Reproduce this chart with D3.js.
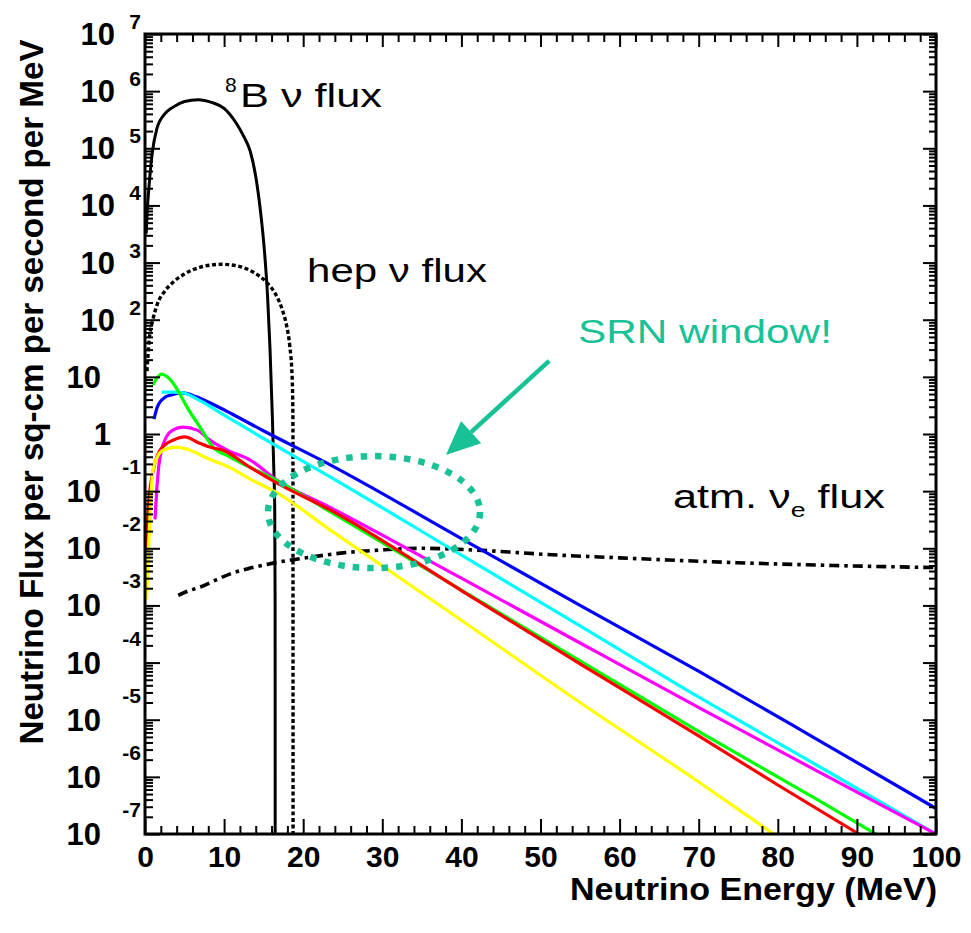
<!DOCTYPE html>
<html>
<head>
<meta charset="utf-8">
<script src="https://cdn.jsdelivr.net/npm/d3@7"></script>
<style>
  body { margin: 0; background: #fff; }
  svg { display: block; }
  text { font-family: "Liberation Sans", Arial, Helvetica, sans-serif; fill: #000; }
</style>
</head>
<body>
<svg id="chart" width="971" height="933"></svg>
<script>
// ---------- axis ticks ----------
const energyTicks = [0, 10, 20, 30, 40, 50, 60, 70, 80, 90, 100];
const decadeExponents = [7, 6, 5, 4, 3, 2, 1, 0, -1, -2, -3, -4, -5, -6, -7];

// ---------- solar 8B spectrum (MeV, flux) ----------
const b8Energy = [0.15, 0.3, 0.5, 0.9, 1.5, 2.5, 3.5, 5, 6.7, 8.5, 10, 11.5, 12.5, 13.3, 14.0, 14.6, 15.1, 15.5, 15.8, 16.1, 16.3, 16.4, 16.45, 16.46];
const b8Flux   = [3.2e3, 8.9e3, 2.1e4, 7.9e4, 2.2e5, 4.0e5, 5.2e5, 6.6e5, 7.1e5, 6.3e5, 5.0e5, 2.8e5, 1.6e5, 8.9e4, 3.2e4, 7.9e3, 1.6e3, 250, 32, 2.0, 0.2, 5.0e-2, 1e-3, 1e-8];

// ---------- solar hep spectrum ----------
const hepEnergy = [0.25, 0.5, 1.0, 1.5, 2.5, 3.5, 5, 7, 9.7, 12, 13.7, 15.4, 16.5, 17.3, 17.9, 18.3, 18.6, 18.7, 18.72];
const hepFlux   = [12.6, 40, 100, 178, 316, 447, 631, 832, 933, 851, 676, 447, 282, 158, 79, 35, 10, 2, 1e-8];

// ---------- atmospheric nu_e ----------
const atmEnergy = [4.2, 5.5, 7, 9, 11.1, 13.3, 16.2, 21.2, 25, 29.7, 35, 41.8, 52.2, 60, 74.8, 87, 100];
const atmFlux   = [1.5e-3, 1.8e-3, 2.1e-3, 2.8e-3, 3.7e-3, 4.5e-3, 5.5e-3, 7.1e-3, 8.3e-3, 9.3e-3, 1.0e-2, 9.3e-3, 7.6e-3, 6.8e-3, 5.6e-3, 5.0e-3, 4.6e-3];

// ---------- relic supernova neutrino models ----------
const blueEnergy = [1.14, 1.5, 1.9, 2.5, 3.2, 4.8, 6.5, 8.6, 11, 14.9, 23, 40, 55, 70.2, 85, 100];
const blueFlux   = [1.82, 2.82, 3.63, 4.37, 4.79, 5.25, 4.47, 3.31, 2.24, 1.15, 0.31, 1.48e-2, 1.0e-3, 6.8e-5, 4.5e-6, 2.8e-7];

const cyanEnergy = [2.1, 3.5, 4.8, 7, 10, 14.9, 23.4, 40, 55, 70.2, 85, 100];
const cyanFlux   = [5.4, 5.4, 5.25, 3.8, 2.14, 0.85, 0.178, 7.6e-3, 4.4e-4, 2.4e-5, 1.58e-6, 1.0e-7];

const magentaEnergy = [1.26, 1.5, 1.75, 2.15, 2.7, 3.5, 4.8, 6.6, 8.2, 10.4, 13.3, 16.7, 23.4, 40, 55, 70.2, 85, 100];
const magentaFlux   = [3.2e-2, 0.112, 0.28, 0.56, 0.89, 1.17, 1.32, 1.17, 0.78, 0.52, 0.35, 0.155, 5.2e-2, 3.0e-3, 2.2e-4, 1.58e-5, 1.26e-6, 1.0e-7];

const greenEnergy = [1.01, 1.5, 2.15, 2.8, 3.54, 4.4, 5.31, 6.95, 8.6, 10.7, 13.3, 15.8, 23, 40, 55, 70.2, 85, 93];
const greenFlux   = [7.2, 9.5, 11.2, 10, 7.8, 5.0, 2.95, 1.32, 0.59, 0.40, 0.26, 0.178, 4.7e-2, 1.86e-3, 1.07e-4, 6.0e-6, 4.0e-7, 8.9e-8];

const redEnergy = [0.2, 0.4, 0.63, 0.88, 1.3, 1.9, 2.6, 3.54, 5.06, 6.6, 8.2, 9.86, 13.3, 16.7, 23.4, 40, 55, 70.2, 80, 90.5];
const redFlux   = [1.0e-2, 4.5e-2, 0.105, 0.178, 0.33, 0.52, 0.66, 0.78, 0.89, 0.72, 0.59, 0.52, 0.26, 0.138, 4.7e-2, 1.82e-3, 9.5e-5, 5.0e-6, 7.2e-7, 9.5e-8];

const yellowEnergy = [0.2, 0.5, 0.75, 1.0, 1.5, 2.28, 4.05, 5.7, 7.8, 10.7, 13.3, 16.7, 23.4, 40, 55, 70.2, 80];
const yellowFlux   = [1.26e-3, 1.4e-2, 7.9e-2, 0.23, 0.38, 0.52, 0.59, 0.52, 0.38, 0.26, 0.162, 9.3e-2, 2.1e-2, 5.5e-4, 2.0e-5, 7.8e-7, 8.9e-8];

// SRN window annotation (energy, flux)
const srnCenter = [28.95, 4.3e-2];
const srnHalfWidth = 13.4;          // MeV
const srnHalfHeightDecades = 0.98;  // decades
const arrowTail = [51.1, 19];
const arrowTip = [38.05, 0.43];

// ---------- layout ----------
const svg = d3.select("#chart");
const plot = { left: 145, right: 936, top: 34, bottom: 834 };
const teal = "#19c296";

svg.append("rect").attr("width", 971).attr("height", 933).attr("fill", "#fff");

const x = d3.scaleLinear().domain([0, 100]).range([plot.left, plot.right]);
const y = d3.scaleLog().domain([1e-7, 1e7]).range([plot.bottom, plot.top]);

svg.append("defs").append("clipPath").attr("id", "plotClip")
  .append("rect")
  .attr("x", plot.left).attr("y", plot.top)
  .attr("width", plot.right - plot.left).attr("height", plot.bottom - plot.top);

// ---------- curves ----------
const line = d3.line()
  .x(d => x(d[0]))
  .y(d => y(d[1]))
  .curve(d3.curveMonotoneX);

const curves = svg.append("g").attr("clip-path", "url(#plotClip)");

function drawCurve(energy, flux, color, width, dash) {
  curves.append("path")
    .datum(d3.zip(energy, flux))
    .attr("d", line)
    .attr("fill", "none")
    .attr("stroke", color)
    .attr("stroke-width", width)
    .attr("stroke-linejoin", "round")
    .attr("stroke-dasharray", dash || null);
}

drawCurve(atmEnergy, atmFlux, "#000", 3.6, "10,5,3.5,5");
drawCurve(hepEnergy, hepFlux, "#000", 3.4, "4,2.6");
drawCurve(b8Energy, b8Flux, "#000", 3);
drawCurve(blueEnergy, blueFlux, "#0000ff", 3.2);
drawCurve(cyanEnergy, cyanFlux, "#00ffff", 3.2);
drawCurve(magentaEnergy, magentaFlux, "#ff00ff", 3.2);
drawCurve(greenEnergy, greenFlux, "#00ff00", 3.2);
drawCurve(redEnergy, redFlux, "#ff0000", 3.2);
drawCurve(yellowEnergy, yellowFlux, "#ffff00", 3.2);

// ---------- axes (inward ticks on all four sides) ----------
const xMinor = d3.range(0, 101, 2).filter(v => v % 10 !== 0);
const yMajor = decadeExponents.map(e => Math.pow(10, e));
const yMinor = [];
decadeExponents.filter(e => e < 7).forEach(e => {
  for (let m = 2; m <= 9; m++) yMinor.push(m * Math.pow(10, e));
});

function styleAxis(g) {
  g.select(".domain").remove();
  g.selectAll(".tick line").attr("stroke", "#000").attr("stroke-width", 2);
}

svg.append("g").attr("transform", `translate(0,${plot.bottom})`)
  .call(d3.axisBottom(x).tickValues(xMinor).tickSize(-8).tickSizeOuter(0).tickFormat(""))
  .call(styleAxis);
const xAxisMajor = svg.append("g").attr("transform", `translate(0,${plot.bottom})`)
  .call(d3.axisBottom(x).tickValues(energyTicks).tickSize(-15).tickSizeOuter(0).tickPadding(12).tickFormat(d3.format("d")))
  .call(styleAxis);
xAxisMajor.selectAll(".tick text")
  .attr("font-family", '"Liberation Sans", Arial, sans-serif')
  .attr("font-size", 30).attr("font-weight", "bold").attr("fill", "#000");

svg.append("g").attr("transform", `translate(0,${plot.top})`)
  .call(d3.axisTop(x).tickValues(xMinor).tickSize(-8).tickSizeOuter(0).tickFormat(""))
  .call(styleAxis);
svg.append("g").attr("transform", `translate(0,${plot.top})`)
  .call(d3.axisTop(x).tickValues(energyTicks).tickSize(-13).tickSizeOuter(0).tickFormat(""))
  .call(styleAxis);

svg.append("g").attr("transform", `translate(${plot.left},0)`)
  .call(d3.axisLeft(y).tickValues(yMinor).tickSize(-8).tickSizeOuter(0).tickFormat(""))
  .call(styleAxis);
svg.append("g").attr("transform", `translate(${plot.left},0)`)
  .call(d3.axisLeft(y).tickValues(yMajor).tickSize(-15).tickSizeOuter(0).tickFormat(""))
  .call(styleAxis);
svg.append("g").attr("transform", `translate(${plot.right},0)`)
  .call(d3.axisRight(y).tickValues(yMinor).tickSize(-7).tickSizeOuter(0).tickFormat(""))
  .call(styleAxis);
svg.append("g").attr("transform", `translate(${plot.right},0)`)
  .call(d3.axisRight(y).tickValues(yMajor).tickSize(-13).tickSizeOuter(0).tickFormat(""))
  .call(styleAxis);

svg.append("rect")
  .attr("x", plot.left).attr("y", plot.top)
  .attr("width", plot.right - plot.left).attr("height", plot.bottom - plot.top)
  .attr("fill", "none").attr("stroke", "#000").attr("stroke-width", 3);

// ---------- decade labels (10 with raised exponent) ----------
const yLabels = svg.append("g")
  .attr("font-weight", "bold");
decadeExponents.forEach(e => {
  const ty = y(Math.pow(10, e));
  if (e === 0) {
    yLabels.append("text").attr("x", 111).attr("y", ty + 11)
      .attr("text-anchor", "end").attr("font-size", 31).text("1");
    return;
  }
  const baseRight = e >= 2 ? 115 : 101;
  yLabels.append("text").attr("x", baseRight).attr("y", ty + 11)
    .attr("text-anchor", "end").attr("font-size", 31).text("10");
  if (e !== 1) {
    const raise = e > 0 ? -5 : -17;
    yLabels.append("text").attr("x", 141).attr("y", ty + raise)
      .attr("text-anchor", "end").attr("font-size", 21).text(String(e));
  }
});

// ---------- axis titles ----------
svg.append("text")
  .attr("transform", "translate(43,392) rotate(-90)")
  .attr("text-anchor", "middle")
  .attr("font-size", 33).attr("font-weight", "bold")
  .attr("textLength", 705).attr("lengthAdjust", "spacingAndGlyphs")
  .text("Neutrino Flux per sq-cm per second per MeV");

svg.append("text")
  .attr("x", 570).attr("y", 900)
  .attr("font-size", 32).attr("font-weight", "bold")
  .attr("textLength", 367).attr("lengthAdjust", "spacingAndGlyphs")
  .text("Neutrino Energy (MeV)");

// ---------- curve labels ----------
function fitted(x0, baseline, width, size, build) {
  const g = svg.append("g").attr("transform", `translate(${x0},${baseline})`);
  const t = g.append("text").attr("font-size", size);
  build(t);
  const w = t.node().getBBox().width;
  t.attr("transform", `scale(${width / w},1)`);
  return t;
}

svg.append("text").attr("x", 225).attr("y", 92).attr("font-size", 21).text("8");
fitted(240, 107, 142, 34, t => t.text("B ν flux"));
fitted(307, 282, 180, 34, t => t.text("hep ν flux"));
fitted(673, 508, 212, 34, t => {
  t.append("tspan").text("atm. ν");
  t.append("tspan").attr("font-size", 21).attr("dy", 9).text("e");
  t.append("tspan").attr("dy", -9).text(" flux");
});
fitted(578, 343, 254, 34, t => t.attr("fill", teal).style("fill", teal).text("SRN window!"));

// ---------- SRN window ellipse and arrow ----------
const cx = x(srnCenter[0]), cy = y(srnCenter[1]);
const rx = x(srnCenter[0] + srnHalfWidth) - cx;
const ry = cy - y(srnCenter[1] * Math.pow(10, srnHalfHeightDecades));
svg.append("ellipse")
  .attr("cx", cx).attr("cy", cy).attr("rx", rx).attr("ry", ry)
  .attr("fill", "none").attr("stroke", teal)
  .attr("stroke-width", 6.5).attr("stroke-dasharray", "6.5,8");

const tx = x(arrowTail[0]), tyA = y(arrowTail[1]);
const hx = x(arrowTip[0]), hy = y(arrowTip[1]);
const ang = Math.atan2(hy - tyA, hx - tx);
const headLen = 34, headHalf = 15;
const bx = hx - headLen * Math.cos(ang), by = hy - headLen * Math.sin(ang);
svg.append("line")
  .attr("x1", tx).attr("y1", tyA).attr("x2", bx).attr("y2", by)
  .attr("stroke", teal).attr("stroke-width", 4.5);
svg.append("path")
  .attr("d", d3.line()([
    [hx, hy],
    [bx + headHalf * Math.sin(ang), by - headHalf * Math.cos(ang)],
    [bx - headHalf * Math.sin(ang), by + headHalf * Math.cos(ang)]
  ]) + "Z")
  .attr("fill", teal);
</script>
</body>
</html>
